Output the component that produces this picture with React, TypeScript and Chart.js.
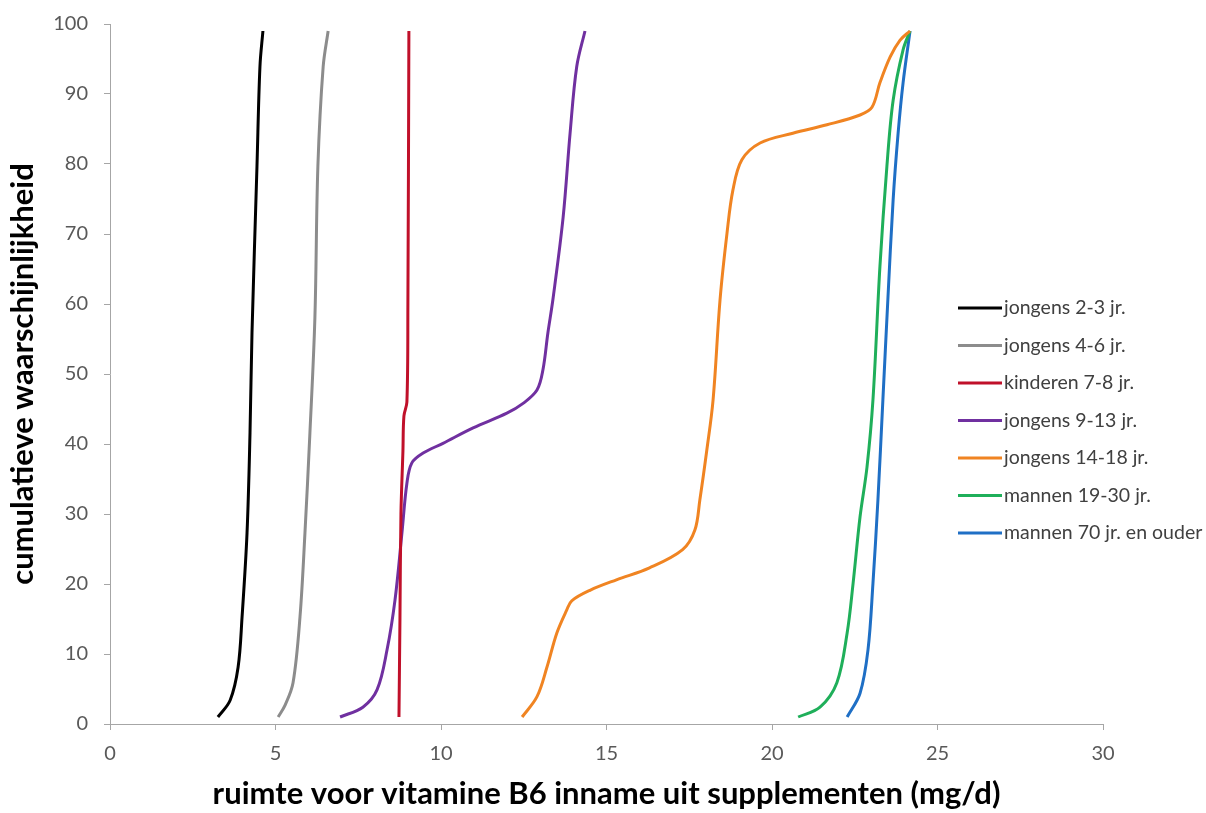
import React, { useEffect, useRef } from "react";
import { Chart, registerables } from "chart.js";

Chart.register(...registerables);

const seriesNames = [
  "jongens 2-3 jr.",
  "jongens 4-6 jr.",
  "kinderen 7-8 jr.",
  "jongens 9-13 jr.",
  "jongens 14-18 jr.",
  "mannen 19-30 jr.",
  "mannen 70 jr. en ouder",
];
const seriesColors = ["#000000", "#8c8c8c", "#c0102a", "#7030a0", "#f08422", "#1faf5a", "#1f6fc5"];

const b23X = [3.26, 3.63, 3.87, 3.99, 4.14, 4.23, 4.29, 4.44, 4.53, 4.62];
const b23Y = [1, 3.4, 8.1, 15.3, 27.3, 41.6, 55.9, 79.6, 93.9, 99];

const b46X = [5.08, 5.29, 5.53, 5.74, 5.89, 6.04, 6.19, 6.28, 6.44, 6.59];
const b46Y = [1, 2.7, 5.9, 15.3, 27.3, 41.6, 58, 79.6, 93.9, 99];

const k78X = [8.73, 8.76, 8.79, 8.85, 8.88, 8.97, 9.0, 9.03];
const k78Y = [1, 15, 30, 39, 44, 46, 60, 99];

const b913X = [6.95, 7.64, 8.07, 8.37, 8.61, 8.82, 8.97, 9.12, 9.46, 10.06, 10.97, 11.99, 12.48, 12.9, 13.08, 13.23, 13.38, 13.69, 13.9, 14.1, 14.35];
const b913Y = [1, 2.4, 4.9, 10.6, 17.7, 27.3, 34.4, 37.3, 38.7, 40.1, 42.3, 44.4, 45.8, 47.7, 50.6, 55.9, 60.6, 72.4, 84.4, 93.9, 99];

const b1418X = [12.45, 12.9, 13.2, 13.5, 13.8, 13.95, 14.5, 15.3, 16.3, 17.3, 17.67, 17.82, 18.03, 18.22, 18.43, 18.64, 18.82, 19.09, 19.64, 20.63, 21.66, 22.66, 23.02, 23.26, 23.57, 23.87, 24.17];
const b1418Y = [1, 3.9, 8.1, 13, 16.3, 17.6, 19.1, 20.6, 22.3, 24.9, 27.7, 32, 39.1, 46.3, 60.6, 70.1, 76.3, 80.6, 83, 84.4, 85.6, 87, 88.1, 91.6, 95.3, 97.7, 99];

const m1930X = [20.79, 21.45, 21.96, 22.27, 22.45, 22.66, 22.87, 23.05, 23.26, 23.47, 23.66, 23.96, 24.17];
const m1930Y = [1, 2.4, 5.9, 13, 20.1, 29.6, 36.7, 46.3, 65.3, 79.6, 89.1, 96.3, 99];

const m70X = [22.27, 22.66, 22.9, 23.05, 23.2, 23.35, 23.5, 23.66, 23.81, 23.96, 24.17];
const m70Y = [1, 4.4, 10.6, 20.1, 32, 46.3, 60.6, 74.9, 84.4, 91.6, 99];

const seriesX = [b23X, b46X, k78X, b913X, b1418X, m1930X, m70X];
const seriesY = [b23Y, b46Y, k78Y, b913Y, b1418Y, m1930Y, m70Y];

const xTitle = "ruimte voor vitamine B6 inname uit supplementen (mg/d)";
const yTitle = "cumulatieve waarschijnlijkheid";

const FONT = "Lato, 'Open Sans', sans-serif";

const legendPlugin = {
  id: "customLegend",
  afterDraw(chart: any) {
    const ctx = chart.ctx;
    ctx.save();
    chart.data.datasets.forEach((ds: any, i: number) => {
      const y = 308 + i * 37.5;
      ctx.strokeStyle = ds.borderColor;
      ctx.lineWidth = 3;
      ctx.beginPath();
      ctx.moveTo(958, y);
      ctx.lineTo(1002, y);
      ctx.stroke();
      ctx.fillStyle = "#404040";
      ctx.font = `19.5px ${FONT}`;
      ctx.textBaseline = "middle";
      ctx.textAlign = "left";
      ctx.fillText(ds.label, 1004, y);
    });
    ctx.restore();
  },
};

export default function App() {
  const ref = useRef<HTMLCanvasElement | null>(null);
  useEffect(() => {
    if (!ref.current) return;
    const datasets = seriesNames.map((name, i) => ({
      label: name,
      data: seriesX[i].map((x, j) => ({ x, y: seriesY[i][j] })),
      borderColor: seriesColors[i],
      backgroundColor: seriesColors[i],
      borderWidth: 3,
      pointRadius: 0,
      fill: false,
      tension: 0.35,
    }));
    const chart = new Chart(ref.current, {
      type: "line",
      data: { datasets },
      options: {
        indexAxis: "y",
        animation: false,
        responsive: true,
        maintainAspectRatio: false,
        layout: { padding: { left: 0, top: 24, right: 103, bottom: 0 } },
        plugins: { legend: { display: false }, tooltip: { enabled: false } },
        scales: {
          x: {
            type: "linear",
            position: "bottom",
            min: 0,
            max: 30,
            ticks: { stepSize: 5, color: "#595959", font: { family: FONT, size: 20 }, padding: 12, maxRotation: 0 },
            grid: { drawOnChartArea: false, drawTicks: true, tickLength: 6, color: "#a6a6a6" },
            border: { display: true, color: "#a6a6a6", width: 1 },
            title: { display: true, text: xTitle, color: "#000", font: { family: FONT, size: 31, weight: "bold" }, padding: { top: 0, bottom: 0 } },
            afterFit: (s: any) => { s.height = 89; s.paddingRight = 0; s.paddingLeft = 0; },
          },
          y: {
            type: "linear",
            position: "left",
            min: 0,
            max: 100,
            ticks: { stepSize: 10, color: "#595959", font: { family: FONT, size: 20 }, padding: 16 },
            grid: { drawOnChartArea: false, drawTicks: true, tickLength: 6, color: "#a6a6a6" },
            border: { display: true, color: "#a6a6a6", width: 1 },
            title: { display: true, text: yTitle, color: "#000", font: { family: FONT, size: 31, weight: "bold" }, padding: { top: 4, bottom: 0 } },
            afterFit: (s: any) => { s.width = 110; s.paddingTop = 0; s.paddingBottom = 0; },
          },
        },
      },
      plugins: [legendPlugin],
    });
    return () => chart.destroy();
  }, []);
  return (
    <div style={{ position: "absolute", left: 0, top: 0, width: 1206, height: 813, background: "#fff" }}>
      <canvas ref={ref} />
    </div>
  );
}
